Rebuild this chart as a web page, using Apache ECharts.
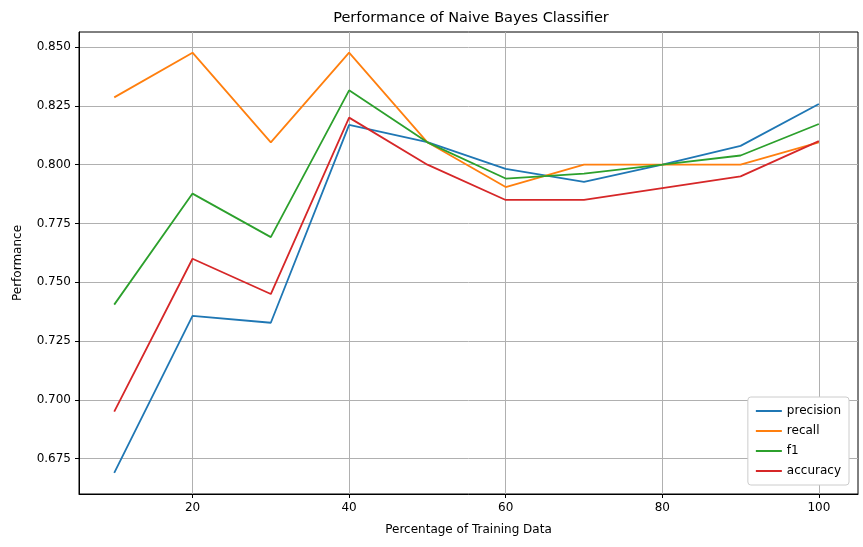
<!DOCTYPE html>
<html>
<head>
<meta charset="utf-8">
<script src="https://cdn.jsdelivr.net/npm/echarts@6/dist/echarts.min.js"></script>
<style>body{margin:0;background:#fff}#main{width:863px;height:547px}</style>
</head>
<body>
<div id="main"></div>
<script>
const xs = [10, 20, 30, 40, 50, 60, 70, 80, 90, 100];
const precision = [0.669, 0.7357, 0.7328, 0.8169, 0.8096, 0.7982, 0.7927, 0.800, 0.808, 0.8258];
const recall = [0.8286, 0.8476, 0.8095, 0.8476, 0.8095, 0.7905, 0.800, 0.800, 0.800, 0.8095];
const f1 = [0.7405, 0.7877, 0.7692, 0.8316, 0.8095, 0.7941, 0.7962, 0.800, 0.8039, 0.8173];
const accuracy = [0.695, 0.76, 0.745, 0.82, 0.80, 0.785, 0.785, 0.79, 0.795, 0.81];
const xTicks = [20, 40, 60, 80, 100];
const yTicks = [0.675, 0.7, 0.725, 0.75, 0.775, 0.8, 0.825, 0.85];

const font = 'DejaVu Sans';
const mk = (name, data, color) => ({
  name, type: 'line', symbol: 'none', data: data.map((v, i) => [xs[i], v]),
  lineStyle: { color, width: 1.8 }, itemStyle: { color }
});
const chart = echarts.init(document.getElementById('main'));
chart.setOption({
  animation: false,
  textStyle: { fontFamily: font },
  title: { text: 'Performance of Naive Bayes Classifier', left: 466, top: 6, textAlign: 'center',
    textStyle: { fontFamily: font, fontSize: 14.5, fontWeight: 'normal', color: '#000' } },
  grid: { left: 79, right: 5, top: 32, bottom: 53, show: true, borderColor: '#000', borderWidth: 1, backgroundColor: 'transparent' },
  legend: {
    orient: 'vertical', right: 14, bottom: 62, itemWidth: 26, itemHeight: 2, itemGap: 8,
    icon: 'rect', backgroundColor: '#fff', borderColor: '#ccc', borderWidth: 1, borderRadius: 3,
    padding: [8, 8, 8, 8], textStyle: { fontFamily: font, fontSize: 12, color: '#000' },
    data: ['precision', 'recall', 'f1', 'accuracy']
  },
  xAxis: {
    type: 'value', min: 5.5, max: 105, name: 'Percentage of Training Data', nameLocation: 'middle', nameGap: 30,
    nameTextStyle: { fontFamily: font, fontSize: 12, color: '#000' },
    axisLine: { onZero: false, lineStyle: { color: '#000' } },
    axisTick: { show: true, length: 4, customValues: xTicks, lineStyle: { color: '#000' } },
    axisLabel: { customValues: xTicks, color: '#000', fontSize: 12, fontFamily: font },
    splitLine: { show: true, lineStyle: { color: '#b0b0b0' } }
  },
  yAxis: {
    type: 'value', min: 0.66, max: 0.8564, name: 'Performance', nameLocation: 'middle', nameGap: 55,
    nameTextStyle: { fontFamily: font, fontSize: 12, color: '#000' },
    axisLine: { show: true, lineStyle: { color: '#000' } },
    axisTick: { show: true, length: 4, customValues: yTicks, lineStyle: { color: '#000' } },
    axisLabel: { customValues: yTicks, color: '#000', fontSize: 12, fontFamily: font, formatter: v => v.toFixed(3) },
    splitLine: { show: true, lineStyle: { color: '#b0b0b0' } }
  },
  series: [
    mk('precision', precision, '#1f77b4'),
    mk('recall', recall, '#ff7f0e'),
    mk('f1', f1, '#2ca02c'),
    mk('accuracy', accuracy, '#d62728')
  ]
});
</script>
</body>
</html>
